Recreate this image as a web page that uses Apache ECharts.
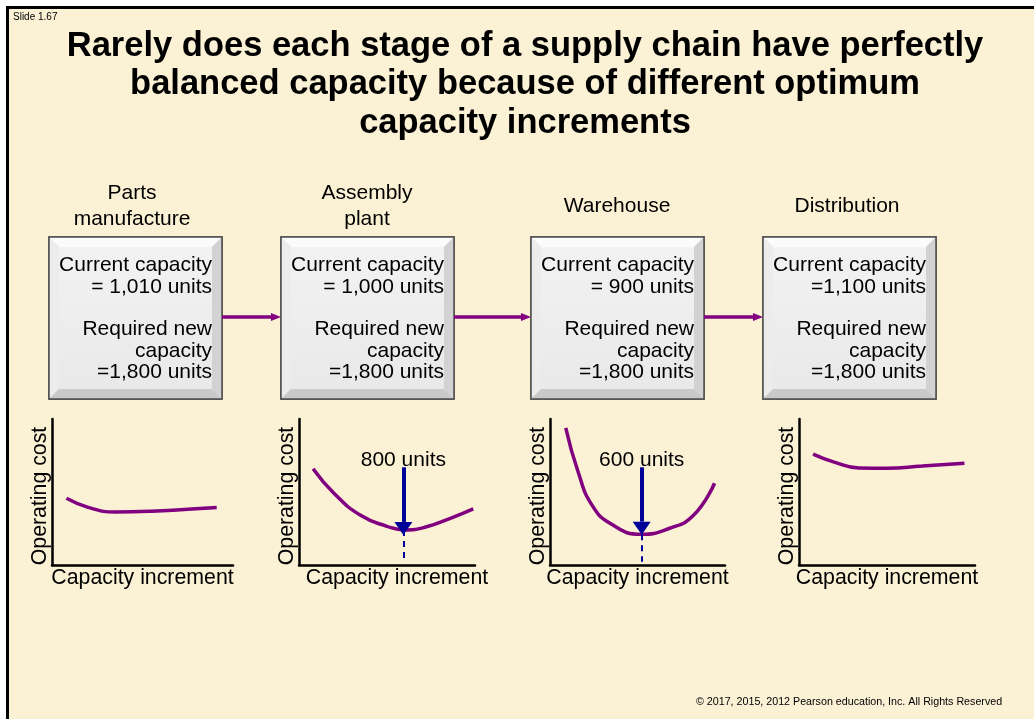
<html>
<head>
    <meta charset='utf-8'>
    <script src='https://cdn.jsdelivr.net/npm/echarts@6/dist/echarts.min.js'></script>
    <style>
        html, body, #main {
            width: 100%;
            height: 100%;
            margin: 0;
            background: #fff;
        }
    </style>
</head>
<body>
<div id='main'></div>
<script>
    // text
    var titleText = 'Rarely does each stage of a supply chain have perfectly\nbalanced capacity because of different optimum\ncapacity increments';
    var stageNames = ['Parts\nmanufacture', 'Assembly\nplant', 'Warehouse', 'Distribution'];
    var currentCapacity = ['= 1,010 units', '= 1,000 units', '= 900 units', '=1,100 units'];
    var requiredCapacity = ['=1,800 units', '=1,800 units', '=1,800 units', '=1,800 units'];
    var xName = 'Capacity increment';
    var yName = 'Operating cost';

    // cost curves (x: capacity increment, y: operating cost, 0-100 scale)
    var partsX = [8, 20, 35, 55, 75, 91];
    var partsY = [45.7, 39.5, 36.3, 36.8, 38.2, 39.3];
    var assemblyX = [8, 20, 35, 50, 60, 72, 86, 99];
    var assemblyY = [66, 49, 34, 26.5, 24, 26, 32, 38.5];
    var warehouseX = [9, 16, 24, 35, 52, 68, 82, 94];
    var warehouseY = [94, 64, 41, 28, 21, 25, 34, 56];
    var distribX = [8, 20, 34, 50, 70, 94];
    var distribY = [76, 70.5, 66.5, 66.3, 67.8, 69.7];

    // optimum increment markers
    var optimumX = [null, 59.3, 52.4, null];
    var optimumText = ['', '800 units', '600 units', ''];
    var arrowTop = [0, 66.9, 66.9, 0];
    var arrowTip = [0, 29.5, 29.7, 0];
    var dashTop = [0, 24, 21, 0];
    var dashBottom = [0, 4.8, 2.3, 0];

    var curves = [[partsX, partsY], [assemblyX, assemblyY], [warehouseX, warehouseY], [distribX, distribY]];

    var FONT = "'Liberation Sans', Arial, sans-serif";
    var cream = '#FBF1D5';
    var purple = '#800080';
    var navy = '#000099';

    var gridLeft = [52, 299, 550, 799];
    var gridWidth = [181, 176, 175, 176];
    var xNamePad = [0, 20, 0, 0];
    var boxLeft = [49, 281, 531, 763];
    var boxTop = 237, boxW = 173, boxH = 162, bev = 10;
    var stageX = [132, 367, 617, 847];

    var grids = [], xAxes = [], yAxes = [], series = [], graphics = [];

    // slide background and border
    graphics.push({ type: 'rect', shape: { x: 6, y: 6, width: 1040, height: 720 }, style: { fill: cream }, z: -10 });
    graphics.push({ type: 'line', shape: { x1: 6, y1: 7.5, x2: 1034, y2: 7.5 }, style: { stroke: '#000', lineWidth: 3 }, z: -9 });
    graphics.push({ type: 'line', shape: { x1: 7.5, y1: 6, x2: 7.5, y2: 719 }, style: { stroke: '#000', lineWidth: 3 }, z: -9 });
    graphics.push({ type: 'text', left: 13, top: 12, style: { text: 'Slide 1.67', font: '10px ' + FONT, fill: '#000' } });
    graphics.push({ type: 'text', x: 525, y: 27, style: { text: titleText, font: 'bold 34.5px ' + FONT, fill: '#000', textAlign: 'center', lineHeight: 38.5 } });
    graphics.push({ type: 'text', left: 696, top: 697, style: { text: '\u00a9 2017, 2015, 2012 Pearson education, Inc. All Rights Reserved', font: '10.7px ' + FONT, fill: '#000' } });

    for (var i = 0; i < 4; i++) {
        var L = boxLeft[i], T = boxTop, R = L + boxW, B = T + boxH;
        // bevelled box
        graphics.push({ type: 'rect', shape: { x: L, y: T, width: boxW, height: boxH }, style: { fill: '#e6e6e6', stroke: '#4d4d4d', lineWidth: 1.5 } });
        graphics.push({ type: 'polygon', shape: { points: [[L, T], [R, T], [R - bev, T + bev], [L + bev, T + bev]] }, style: { fill: '#fbfbfb' } });
        graphics.push({ type: 'polygon', shape: { points: [[L, T], [L + bev, T + bev], [L + bev, B - bev], [L, B]] }, style: { fill: '#ececec' } });
        graphics.push({ type: 'polygon', shape: { points: [[R, T], [R, B], [R - bev, B - bev], [R - bev, T + bev]] }, style: { fill: '#d2d2d2' } });
        graphics.push({ type: 'polygon', shape: { points: [[L, B], [R, B], [R - bev, B - bev], [L + bev, B - bev]] }, style: { fill: '#c9c9c9' } });
        graphics.push({ type: 'rect', shape: { x: L + bev, y: T + bev, width: boxW - 2 * bev, height: boxH - 2 * bev }, style: { fill: { type: 'linear', x: 0, y: 0, x2: 0, y2: 1, colorStops: [{ offset: 0, color: '#f2f2f2' }, { offset: 1, color: '#e9e9e9' }] } } });
        graphics.push({ type: 'rect', shape: { x: L, y: T, width: boxW, height: boxH }, style: { fill: 'none', stroke: '#4d4d4d', lineWidth: 1.5 } });
        graphics.push({ type: 'text', x: R - 10, y: T + 18, style: {
            text: 'Current capacity\n' + currentCapacity[i] + '\n\nRequired new\ncapacity\n' + requiredCapacity[i],
            font: '21px ' + FONT, fill: '#000', textAlign: 'right', textVerticalAlign: 'top', lineHeight: 21.3 } });
        graphics.push({ type: 'text', x: stageX[i], y: 206, style: {
            text: stageNames[i], font: '21px ' + FONT, fill: '#000', textAlign: 'center', textVerticalAlign: 'middle', lineHeight: 26.5 } });
        // flow arrows
        if (i < 3) {
            var ax1 = R, ax2 = boxLeft[i + 1];
            graphics.push({ type: 'line', shape: { x1: ax1, y1: 317, x2: ax2 - 8, y2: 317 }, style: { stroke: purple, lineWidth: 3.5 } });
            graphics.push({ type: 'polygon', shape: { points: [[ax2 - 10, 313], [ax2, 317], [ax2 - 10, 321]] }, style: { fill: purple } });
        }

        grids.push({ left: gridLeft[i], top: 419, width: gridWidth[i], height: 146 });
        xAxes.push({
            type: 'value', gridIndex: i, min: 0, max: 100,
            name: xName, nameLocation: 'middle', nameGap: 3,
            nameTextStyle: { fontFamily: FONT, fontSize: 21.3, color: '#000', verticalAlign: 'top', padding: [0, 0, 0, xNamePad[i]] },
            axisLine: { lineStyle: { color: '#000', width: 2.5 } },
            axisTick: { show: false }, axisLabel: { show: false }, splitLine: { show: false }
        });
        yAxes.push({
            type: 'value', gridIndex: i, min: 0, max: 100,
            name: yName, nameLocation: 'middle', nameGap: 1,
            nameTextStyle: { fontFamily: FONT, fontSize: 21.3, color: '#000', verticalAlign: 'bottom', padding: [0, 8, 0, 0] },
            axisLine: { show: true, lineStyle: { color: '#000', width: 2.5 } },
            axisTick: { show: false }, axisLabel: { show: false }, splitLine: { show: false }
        });

        var pts = [];
        for (var k = 0; k < curves[i][0].length; k++) pts.push([curves[i][0][k], curves[i][1][k]]);
        var s = {
            type: 'line', xAxisIndex: i, yAxisIndex: i, data: pts, smooth: 0.5,
            symbol: 'none', lineStyle: { color: purple, width: 3.5 }, silent: true, animation: false
        };
        if (optimumX[i] !== null) {
            var ox = optimumX[i];
            s.markLine = {
                silent: true, animation: false, symbol: 'none',
                data: [
                    [
                        { coord: [ox, arrowTop[i]], symbol: 'none',
                          lineStyle: { color: navy, width: 4, type: 'solid' },
                          label: { show: true, position: 'start', formatter: optimumText[i], color: '#000', fontFamily: FONT, fontSize: 21, distance: -3 } },
                        { coord: [ox, arrowTip[i]], symbol: 'triangle', symbolSize: [18, 13], symbolOffset: [0, '-50%'] }
                    ],
                    [
                        { coord: [ox, dashTop[i]], symbol: 'none',
                          lineStyle: { color: navy, width: 2, type: [6, 5] }, label: { show: false } },
                        { coord: [ox, dashBottom[i]], symbol: 'none' }
                    ]
                ]
            };
        }
        series.push(s);
    }

    var myChart = echarts.init(document.getElementById('main'));
    myChart.setOption({
        backgroundColor: '#ffffff',
        animation: false,
        grid: grids,
        xAxis: xAxes,
        yAxis: yAxes,
        series: series,
        graphic: graphics
    });
</script>
</body>
</html>
